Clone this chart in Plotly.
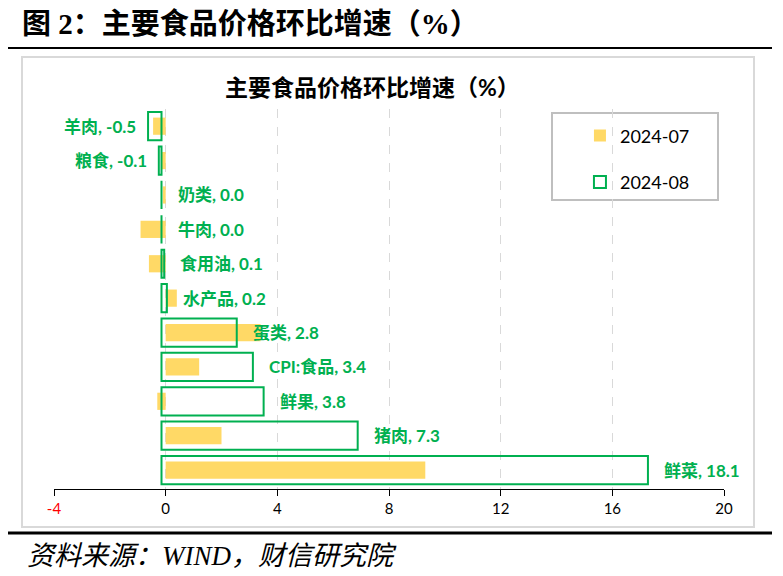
import plotly.graph_objects as go

# categories, bottom to top
cats = ["鲜菜", "猪肉", "鲜果", "CPI:食品", "蛋类", "水产品", "食用油", "牛肉", "奶类", "粮食", "羊肉"]
jul = [9.3, 2.0, -0.3, 1.2, 3.4, 0.4, -0.6, -0.9, -0.1, -0.15, -0.45]
aug = [18.1, 7.3, 3.8, 3.4, 2.8, 0.2, 0.1, 0.0, 0.0, -0.1, -0.5]
tick_vals = [-4, 0, 4, 8, 12, 16, 20]

GREEN = "#00B050"
YELLOW = "#FFD966"
CJK = "Noto Sans CJK SC"

fig = go.Figure()

fig.add_trace(go.Bar(
    y=cats, x=jul, orientation="h", name="2024-07",
    marker=dict(color=YELLOW, line=dict(width=0)),
    width=0.5, xaxis="x", yaxis="y", legendgroup="a",
))
fig.add_trace(go.Bar(
    y=cats, x=aug, orientation="h", name="2024-08",
    marker=dict(color="rgba(0,0,0,0)", line=dict(color=GREEN, width=2)),
    width=0.82, xaxis="x2", yaxis="y", legendgroup="b",
))

# data labels
for c, v in zip(cats, aug):
    neg = v < 0
    fig.add_annotation(
        x=v, y=c, xref="x2", yref="y",
        text=f"<b>{c}, {v:.1f}</b>", showarrow=False,
        xanchor="right" if neg else "left",
        xshift=-10 if neg else 14,
        font=dict(family=f"Lato, {CJK}", size=17, color=GREEN),
    )

ticktext = [f'<span style="color:red">{t}</span>' if t < 0 else str(t) for t in tick_vals]

# the page body adds 8px, so margins are set against that
fig.update_layout(
    width=783, height=576,
    margin=dict(l=46, r=67, t=101, b=95),
    paper_bgcolor="white", plot_bgcolor="white",
    barmode="overlay",
    showlegend=True,
    legend=dict(
        x=0.785, y=0.978, xanchor="left", yanchor="top",
        bgcolor="rgba(0,0,0,0)", borderwidth=0,
        font=dict(family=f"Lato, {CJK}", size=18, color="black"),
        tracegroupgap=20, traceorder="grouped",
    ),
    xaxis=dict(
        range=[-4, 20], tickvals=tick_vals, ticktext=ticktext,
        showgrid=True, gridcolor="#d9d9d9", griddash="dash", gridwidth=1,
        zeroline=False, showline=True, linecolor="black", linewidth=1,
        ticks="outside", ticklen=6, tickcolor="black",
        tickfont=dict(family=f"Lato, {CJK}", size=15, color="black"),
    ),
    xaxis2=dict(range=[-4, 20.93], overlaying="x", visible=False),
    yaxis=dict(
        range=[-0.55, 10.5], showticklabels=False, showgrid=False,
        zeroline=False, showline=False, ticks="",
    ),
)

# page title, inner title and source
fig.add_annotation(
    x=(20 - 54) / 670, y=(489 - 24) / 380, xref="paper", yref="paper",
    xanchor="left", yanchor="middle",
    text="<b>图 2：主要食品价格环比增速（%）</b>", showarrow=False,
    font=dict(family=f"Liberation Serif, {CJK}", size=29, color="black"),
)
fig.add_annotation(
    x=(372 - 54) / 670, y=(489 - 87) / 380, xref="paper", yref="paper",
    xanchor="center", yanchor="middle",
    text="<b>主要食品价格环比增速（%）</b>", showarrow=False,
    font=dict(family=f"Lato, {CJK}", size=23, color="black"),
)
fig.add_annotation(
    x=(25 - 54) / 670, y=(489 - 556) / 380, xref="paper", yref="paper",
    xanchor="left", yanchor="middle",
    text="<i>资料来源：WIND，财信研究院</i>", showarrow=False,
    font=dict(family=f"Liberation Serif, {CJK}", size=27, color="black"),
)

# frames and rules
fig.add_shape(type="rect", xref="paper", yref="paper",
              x0=(22 - 54) / 670, x1=(754 - 54) / 670,
              y0=(489 - 527) / 380, y1=(489 - 57) / 380,
              line=dict(color="#d9d9d9", width=2), layer="below")
fig.add_shape(type="rect", xref="paper", yref="paper",
              x0=(552 - 54) / 670, x1=(718 - 54) / 670,
              y0=(489 - 200) / 380, y1=(489 - 113) / 380,
              line=dict(color="#bfbfbf", width=2), layer="below")
fig.add_shape(type="line", xref="paper", yref="paper",
              x0=(4 - 54) / 670, x1=(772 - 54) / 670,
              y0=(489 - 48) / 380, y1=(489 - 48) / 380,
              line=dict(color="black", width=2))
fig.add_shape(type="line", xref="paper", yref="paper",
              x0=(4 - 54) / 670, x1=(772 - 54) / 670,
              y0=(489 - 533) / 380, y1=(489 - 533) / 380,
              line=dict(color="black", width=3))

fig.write_html("out.html")
